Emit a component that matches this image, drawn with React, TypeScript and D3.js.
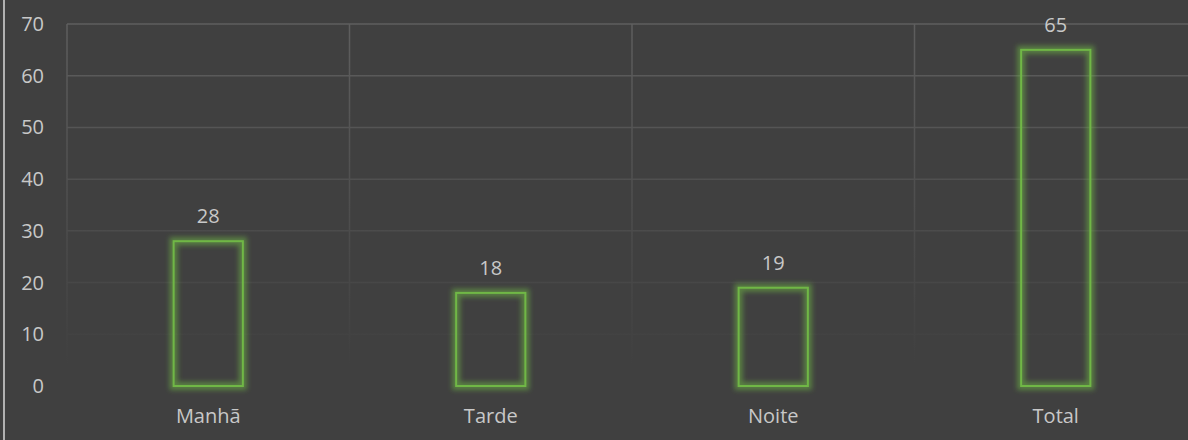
import * as React from 'react';
import {scaleBand, scaleLinear} from 'd3';

const categories = ['Manhã', 'Tarde', 'Noite', 'Total'];
const values = [28, 18, 19, 65];
const yTicks = [0, 10, 20, 30, 40, 50, 60, 70];

const W = 1188;
const H = 440;
const margin = {left: 67, top: 24, right: -9, bottom: 54};
const bg = '#404040';
const textColor = '#c8c8c8';
const green = '#70b746';
const font = '"Open Sans", sans-serif';
const fs = 20;

const xScale = scaleBand<string>()
    .domain(categories)
    .range([margin.left, W - margin.right])
    .padding(0);

const yScale = scaleLinear()
    .domain([0, 70])
    .range([H - margin.bottom, margin.top]);

const barW = xScale.bandwidth() * 0.245;

export default function App() {
    const y0 = yScale(0);
    return (
        <svg width={W} height={H} style={{display: 'block', position: 'absolute', left: 0, top: 0}}>
            <defs>
                <linearGradient id="gridFade" gradientUnits="userSpaceOnUse" x1={0} y1={margin.top} x2={0} y2={y0 - 20}>
                    <stop offset="0%" stopColor="#5e5e5e" />
                    <stop offset="100%" stopColor={bg} />
                </linearGradient>
                <filter id="blur" x="-30%" y="-30%" width="160%" height="160%">
                    <feGaussianBlur in="SourceGraphic" stdDeviation="2.5" />
                </filter>
            </defs>
            <rect x={0} y={0} width={W} height={H} fill={bg} />
            <line x1={4} x2={4} y1={0} y2={H} stroke="#cfcfcf" strokeWidth={1.6} />

            {/* gridlines */}
            {yTicks.map(t => (
                <line key={'h' + t} x1={margin.left} x2={W} y1={yScale(t)} y2={yScale(t)}
                      stroke="url(#gridFade)" strokeWidth={1.5} />
            ))}
            {categories.map(c => (
                <line key={'v' + c} x1={xScale(c)!} x2={xScale(c)!} y1={margin.top} y2={y0}
                      stroke="url(#gridFade)" strokeWidth={1.5} />
            ))}

            {/* y ticks */}
            {yTicks.map(t => (
                <text key={'yt' + t} x={44} y={yScale(t)} dy="0.35em" textAnchor="end"
                      fill={textColor} fontFamily={font} fontSize={fs}>{t}</text>
            ))}

            {/* bars */}
            {categories.map((c, i) => {
                const cx = xScale(c)! + xScale.bandwidth() / 2;
                const top = yScale(values[i]);
                return (
                    <g key={'b' + c}>
                        <rect x={cx - barW / 2} y={top} width={barW} height={y0 - top}
                              fill="none" stroke={green} strokeOpacity={0.55} strokeWidth={8} filter="url(#blur)" />
                        <rect x={cx - barW / 2} y={top} width={barW} height={y0 - top}
                              fill="none" stroke={green} strokeWidth={2} />
                        <text x={cx} y={top - 25} dy="0.35em" textAnchor="middle"
                              fill={textColor} fontFamily={font} fontSize={fs}>{values[i]}</text>
                        <text x={cx} y={y0 + 30} dy="0.35em" textAnchor="middle"
                              fill={textColor} fontFamily={font} fontSize={fs}>{c}</text>
                    </g>
                );
            })}
        </svg>
    );
}
